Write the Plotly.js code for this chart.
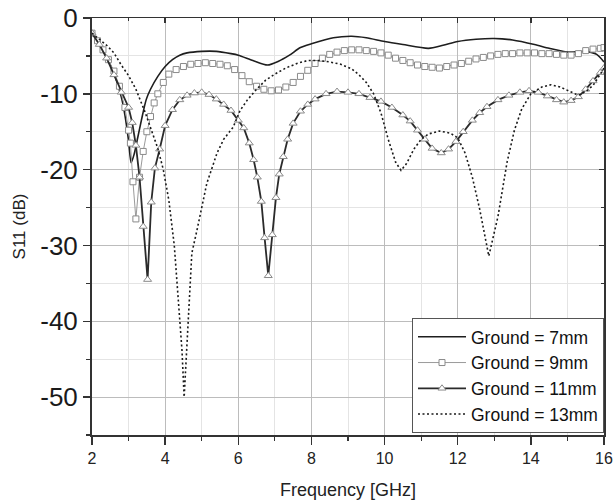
<!DOCTYPE html>
<html>
<head>
<meta charset="utf-8">
<script src="https://cdn.plot.ly/plotly-3.0.1.min.js"></script>
<style>html,body{margin:0;padding:0;background:#fff;}#chart{width:614px;height:504px;}</style>
</head>
<body>
<div id="chart"></div>
<script>
// Ground = 7mm
var f7 = [2.0,2.2,2.4,2.6,2.8,2.9,3.0,3.07,3.15,3.25,3.35,3.48,3.6,3.8,4.0,4.2,4.4,4.6,5.0,5.4,5.8,6.0,6.4,6.8,7.1,7.4,7.7,8.0,8.6,9.1,9.5,10.0,10.5,11.2,11.6,12.0,12.5,13.0,13.5,14.1,14.5,15.0,15.5,15.8,16.0];
var s7 = [-2.0,-3.5,-5.2,-7.3,-10.4,-12.8,-16.2,-19.1,-18.0,-15.8,-13.5,-10.8,-9.4,-7.7,-6.4,-5.5,-4.9,-4.6,-4.4,-4.4,-4.7,-4.9,-5.6,-6.2,-5.7,-4.9,-3.9,-3.4,-2.6,-2.4,-2.6,-3.1,-3.5,-4.0,-3.6,-3.1,-2.8,-2.7,-2.9,-3.5,-4.0,-4.5,-4.4,-4.8,-5.8];

// Ground = 9mm
var f9 = [2.0,2.15,2.3,2.45,2.6,2.75,2.9,3.0,3.05,3.12,3.2,3.3,3.4,3.5,3.6,3.7,3.8,3.95,4.1,4.3,4.5,4.7,4.9,5.1,5.3,5.5,5.7,5.9,6.1,6.3,6.5,6.7,6.9,7.1,7.3,7.5,7.7,7.9,8.1,8.3,8.5,8.7,8.9,9.1,9.3,9.5,9.7,9.9,10.1,10.3,10.5,10.7,10.9,11.1,11.3,11.5,11.7,11.9,12.1,12.3,12.5,12.7,12.9,13.1,13.3,13.5,13.7,13.9,14.1,14.3,14.5,14.7,14.9,15.1,15.3,15.5,15.7,15.9,16.0];
var s9 = [-2.0,-3.0,-4.2,-5.5,-7.0,-9.0,-11.8,-14.8,-16.5,-21.6,-26.5,-21.0,-17.6,-15.0,-13.0,-11.2,-10.0,-8.5,-7.4,-6.8,-6.4,-6.1,-6.0,-5.9,-6.0,-6.1,-6.3,-6.8,-7.6,-8.4,-9.0,-9.4,-9.6,-9.5,-9.1,-8.5,-7.7,-6.9,-6.0,-5.3,-4.8,-4.5,-4.3,-4.2,-4.2,-4.3,-4.4,-4.6,-4.9,-5.3,-5.6,-5.9,-6.2,-6.4,-6.5,-6.6,-6.4,-6.2,-6.0,-5.7,-5.4,-5.2,-5.0,-4.8,-4.7,-4.7,-4.6,-4.6,-4.6,-4.7,-4.7,-4.8,-4.9,-4.9,-4.7,-4.3,-4.1,-4.0,-3.9];

// Ground = 11mm
var f11 = [2.0,2.2,2.4,2.6,2.8,3.0,3.1,3.2,3.3,3.4,3.52,3.62,3.72,3.85,4.0,4.2,4.4,4.6,4.8,5.0,5.2,5.4,5.6,5.8,6.0,6.15,6.3,6.42,6.52,6.63,6.72,6.82,6.93,7.03,7.12,7.23,7.35,7.5,7.7,7.9,8.1,8.4,8.7,9.0,9.3,9.6,9.9,10.2,10.5,10.7,10.9,11.1,11.3,11.55,11.75,11.95,12.15,12.4,12.6,12.8,13.1,13.4,13.7,13.95,14.2,14.45,14.7,14.9,15.1,15.3,15.5,15.7,15.9,16.0];
var s11 = [-2.0,-3.5,-5.3,-7.5,-9.8,-11.8,-13.8,-16.8,-21.0,-27.5,-34.5,-24.3,-19.8,-17.3,-14.2,-12.1,-10.8,-10.2,-9.9,-9.8,-10.1,-10.7,-11.4,-12.2,-13.5,-14.5,-16.5,-18.7,-21.0,-24.2,-29.0,-34.0,-28.6,-23.7,-20.6,-18.3,-16.0,-13.9,-12.3,-11.4,-10.7,-10.0,-9.7,-9.8,-10.0,-10.5,-11.0,-11.8,-12.8,-13.6,-14.8,-16.0,-17.2,-17.8,-17.3,-16.3,-15.0,-13.5,-12.5,-11.7,-10.8,-10.2,-9.8,-9.6,-9.8,-10.3,-10.8,-11.1,-10.9,-10.4,-9.4,-8.3,-7.2,-6.6];

// Ground = 13mm
var f13 = [2.0,2.2,2.4,2.6,2.8,3.0,3.2,3.45,3.65,3.8,3.95,4.1,4.25,4.36,4.46,4.52,4.61,4.67,4.73,4.87,5.0,5.14,5.42,5.6,5.86,6.05,6.25,6.5,6.75,7.0,7.3,7.6,7.9,8.2,8.5,8.8,9.1,9.3,9.5,9.7,9.9,10.1,10.3,10.45,10.6,10.8,11.0,11.2,11.5,11.8,12.0,12.2,12.4,12.6,12.85,13.1,13.35,13.55,13.75,14.0,14.3,14.55,14.8,15.05,15.3,15.5,15.7,15.9,16.0];
var s13 = [-2.0,-2.8,-3.6,-4.6,-6.2,-7.6,-9.4,-12.4,-15.0,-17.2,-20.0,-24.0,-30.0,-37.2,-43.8,-50.0,-42.0,-35.0,-31.0,-28.0,-24.9,-21.8,-17.8,-16.0,-14.4,-12.2,-10.8,-9.4,-8.2,-7.4,-6.6,-6.0,-5.6,-5.6,-5.8,-6.1,-6.7,-7.5,-8.5,-10.0,-12.5,-16.0,-19.0,-20.1,-19.2,-17.3,-16.0,-15.3,-14.9,-15.2,-15.8,-17.8,-21.0,-25.2,-31.4,-26.2,-19.0,-14.8,-12.0,-10.0,-9.1,-8.8,-9.1,-9.7,-10.2,-9.7,-8.9,-7.4,-6.6];

var names = ['Ground = 7mm','Ground = 9mm','Ground = 11mm','Ground = 13mm'];
var xTicks = [2,4,6,8,10,12,14,16];
var yTicks = [0,-10,-20,-30,-40,-50];

var FONT = '"Liberation Sans", Arial, Helvetica, sans-serif';

var traces = [
  {x:f7, y:s7, name:names[0], mode:'lines', line:{color:'#1e1e1e', width:1.6, shape:'spline', smoothing:0.7}},
  {x:f9, y:s9, name:names[1], mode:'lines+markers', line:{color:'#9a9a9a', width:1},
   marker:{symbol:'square', size:6, color:'#ffffff', line:{color:'#8a8a8a', width:1}}},
  {x:f11, y:s11, name:names[2], mode:'lines+markers', line:{color:'#2b2b2b', width:1.8},
   marker:{symbol:'triangle-up', size:7, color:'#ffffff', line:{color:'#8a8a8a', width:1}}},
  {x:f13, y:s13, name:names[3], mode:'lines', line:{color:'#1a1a1a', width:1.6, dash:'2px,2.5px'}},
  {x:[], y:[], xaxis:'x2', yaxis:'y2', showlegend:false, hoverinfo:'skip'}
];

var layout = {
  width:614, height:504,
  margin:{l:92, r:10, t:18, b:69, pad:0},
  paper_bgcolor:'#ffffff', plot_bgcolor:'#ffffff',
  font:{family:FONT, color:'#1a1a1a'},
  showlegend:true,
  legend:{x:1, xanchor:'right', y:0.005, yanchor:'bottom', bgcolor:'#ffffff',
          bordercolor:'#555555', borderwidth:1, font:{family:FONT, size:17.5, color:'#111'},
          tracegroupgap:0, itemwidth:48},
  xaxis:{range:[2,16], tickvals:xTicks, ticktext:xTicks.map(String),
         ticks:'outside', ticklen:8, tickwidth:1.5, tickcolor:'#333',
         showline:true, linewidth:2, linecolor:'#333', mirror:false,
         showgrid:true, gridcolor:'#bcbcbc', gridwidth:1, zeroline:false,
         tickfont:{family:FONT, size:16, color:'#222'},
         minor:{dtick:1, tick0:2, ticks:'outside', ticklen:4, tickwidth:1.2, tickcolor:'#333',
                showgrid:true, gridcolor:'#e4e4e4', gridwidth:1},
         title:{text:'Frequency [GHz]', font:{family:FONT, size:18, color:'#222'}, standoff:17}},
  yaxis:{range:[-55,0], tickvals:yTicks, ticktext:yTicks.map(String),
         ticks:'outside', ticklen:7, tickwidth:1.5, tickcolor:'#333',
         showline:true, linewidth:2, linecolor:'#333', mirror:false,
         showgrid:true, gridcolor:'#bcbcbc', gridwidth:1, zeroline:false,
         tickfont:{family:FONT, size:26, color:'#1a1a1a'},
         minor:{dtick:5, tick0:0, ticks:'outside', ticklen:4, tickwidth:1.2, tickcolor:'#333',
                showgrid:true, gridcolor:'#e4e4e4', gridwidth:1},
         title:{text:'S11 (dB)', font:{family:FONT, size:17, color:'#222'}, standoff:10}},
  xaxis2:{overlaying:'x', anchor:'y2', side:'top', range:[2,16], tickvals:xTicks,
          ticks:'inside', ticklen:5, tickwidth:1.3, tickcolor:'#333', showticklabels:false,
          showline:true, linewidth:1.5, linecolor:'#333', showgrid:false, zeroline:false,
          minor:{dtick:1, tick0:2, ticks:'inside', ticklen:3, tickwidth:1, tickcolor:'#333', showgrid:false}},
  yaxis2:{overlaying:'y', anchor:'x2', side:'right', range:[-55,0], tickvals:yTicks,
          ticks:'inside', ticklen:5, tickwidth:1.3, tickcolor:'#333', showticklabels:false,
          showline:true, linewidth:1.5, linecolor:'#333', showgrid:false, zeroline:false,
          minor:{dtick:5, tick0:0, ticks:'inside', ticklen:3, tickwidth:1, tickcolor:'#333', showgrid:false}}
};

Plotly.newPlot('chart', traces, layout, {staticPlot:true, displayModeBar:false});
</script>
</body>
</html>
